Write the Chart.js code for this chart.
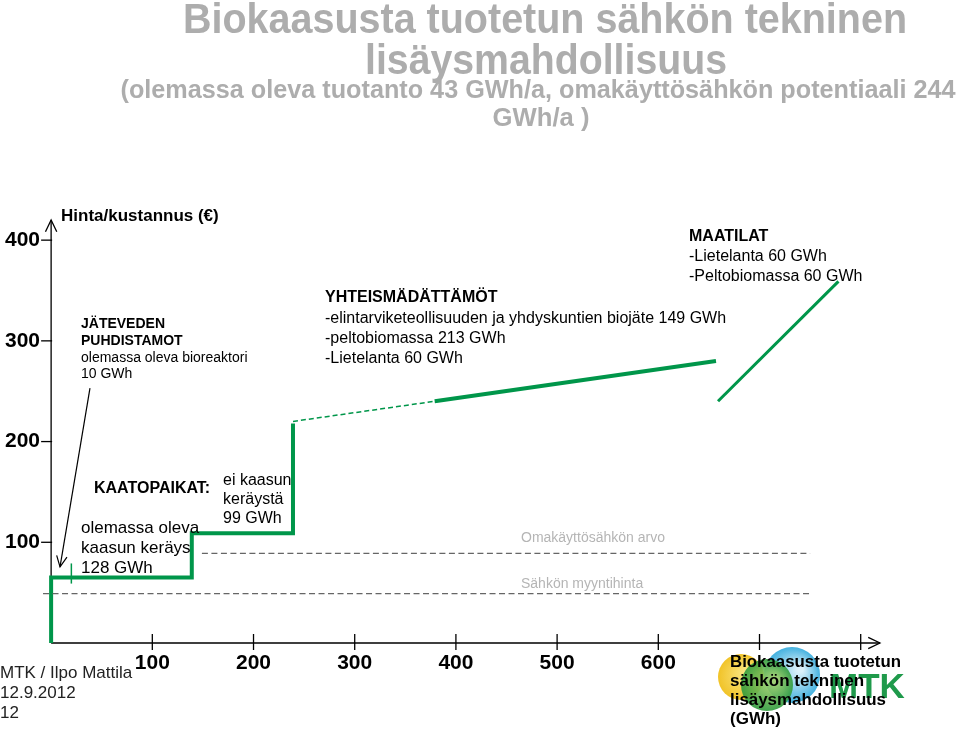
<!DOCTYPE html>
<html>
<head>
<meta charset="utf-8">
<script src="https://cdn.jsdelivr.net/npm/chart.js@4.4.1/dist/chart.umd.min.js"></script>
<style>
    body { margin: 0; background: #fff; }
    #wrap { width: 960px; height: 730px; }
</style>
</head>
<body>
<div id="wrap"><canvas id="slide" width="960" height="730"></canvas></div>
<script>
const FONT = '"Liberation Sans", Arial, sans-serif';
const green = '#00964a';

// tick labels (GWh on x, price on y)
const xTickLabels = [100, 200, 300, 400, 500, 600];
const xTickMarks = [100, 200, 300, 400, 500, 600, 700, 800];
const yTickLabels = [100, 200, 300, 400];

// cumulative GWh / price steps
const stepX = [0, 0, 139, 139, 239, 239];
const stepY = [0, 65, 65, 109, 109, 218];
const biojateX = [239, 379];
const biojateY = [220, 240];
const yhteisX = [379, 657];
const yhteisY = [240, 280];
const maatilaX = [659, 778];
const maatilaY = [240, 359];
const jatevesiX = [20, 20];
const jatevesiY = [59, 79];
const omakayttoX = [149, 750];
const omakayttoY = [89, 89];
const myyntiX = [-8, 750];
const myyntiY = [49, 49];

function pts(xs, ys) {
    return xs.map((x, i) => ({ x: x, y: ys[i] }));
}

function txt(ctx, s, x, y, font, color, align, maxW) {
    ctx.font = font;
    ctx.fillStyle = color || '#000';
    ctx.textAlign = align || 'left';
    ctx.textBaseline = 'alphabetic';
    if (maxW) ctx.fillText(s, x, y, maxW);
    else ctx.fillText(s, x, y);
}

function arrowHead(ctx, x, y, ang, len) {
    ctx.beginPath();
    ctx.moveTo(x - len * Math.cos(ang - 0.45), y - len * Math.sin(ang - 0.45));
    ctx.lineTo(x, y);
    ctx.lineTo(x - len * Math.cos(ang + 0.45), y - len * Math.sin(ang + 0.45));
    ctx.stroke();
}

const slidePlugin = {
    id: 'slide',
    beforeDatasetsDraw(chart) {
        const ctx = chart.ctx;
        const xs = chart.scales.x, ys = chart.scales.y;
        const x0 = xs.getPixelForValue(0), y0 = ys.getPixelForValue(0);
        const yTop = ys.getPixelForValue(420), xEnd = xs.getPixelForValue(819);
        ctx.save();
        ctx.strokeStyle = '#000';
        ctx.lineWidth = 1.3;
        ctx.beginPath();
        ctx.moveTo(x0, y0);
        ctx.lineTo(x0, yTop);
        ctx.moveTo(x0, y0);
        ctx.lineTo(xEnd, y0);
        ctx.stroke();
        arrowHead(ctx, x0, yTop, -Math.PI / 2, 13);
        arrowHead(ctx, xEnd, y0, 0, 13);
        yTickLabels.forEach(v => {
            const p = ys.getPixelForValue(v);
            ctx.beginPath();
            ctx.moveTo(x0 - 10, p);
            ctx.lineTo(x0 + 1, p);
            ctx.stroke();
        });
        xTickMarks.forEach(v => {
            const p = xs.getPixelForValue(v);
            ctx.beginPath();
            ctx.moveTo(p, y0 - 9);
            ctx.lineTo(p, y0 + 7);
            ctx.stroke();
        });
        ctx.restore();
    },
    afterDatasetsDraw(chart) {
        const ctx = chart.ctx;
        const xs = chart.scales.x, ys = chart.scales.y;
        ctx.save();

        // title
        const grey = '#adadad';
        txt(ctx, 'Biokaasusta tuotetun sähkön tekninen', 545, 33, 'bold 42px ' + FONT, grey, 'center', 724);
        txt(ctx, 'lisäysmahdollisuus', 546, 74, 'bold 42px ' + FONT, grey, 'center', 362);
        txt(ctx, '(olemassa oleva tuotanto 43 GWh/a, omakäyttösähkön potentiaali 244', 538, 98, 'bold 26px ' + FONT, grey, 'center', 835);
        txt(ctx, 'GWh/a )', 541, 126, 'bold 26px ' + FONT, grey, 'center', 97);

        // axis title
        txt(ctx, 'Hinta/kustannus (€)', 61, 221, 'bold 17px ' + FONT, '#000');

        // annotations
        const b14 = 'bold 14px ' + FONT, r14 = '14px ' + FONT;
        txt(ctx, 'JÄTEVEDEN', 81, 328, b14);
        txt(ctx, 'PUHDISTAMOT', 81, 345, b14);
        txt(ctx, 'olemassa oleva bioreaktori', 81, 362, r14);
        txt(ctx, '10 GWh', 81, 378, r14);

        txt(ctx, 'KAATOPAIKAT:', 94, 493, 'bold 16px ' + FONT);
        txt(ctx, 'olemassa oleva', 81, 533, '17px ' + FONT);
        txt(ctx, 'kaasun keräys', 81, 553, '17px ' + FONT);
        txt(ctx, '128 GWh', 81, 573, '17px ' + FONT);
        txt(ctx, 'ei kaasun', 223, 485, '16px ' + FONT);
        txt(ctx, 'keräystä', 223, 504, '16px ' + FONT);
        txt(ctx, '99 GWh', 223, 523, '16px ' + FONT);

        const b16 = 'bold 16px ' + FONT, r16 = '16px ' + FONT;
        txt(ctx, 'YHTEISMÄDÄTTÄMÖT', 325, 302, b16);
        txt(ctx, '-elintarviketeollisuuden ja yhdyskuntien biojäte 149 GWh', 325, 323, r16, '#000', 'left', 420);
        txt(ctx, '-peltobiomassa 213 GWh', 325, 343, r16);
        txt(ctx, '-Lietelanta 60 GWh', 325, 363, r16);

        txt(ctx, 'MAATILAT', 689, 241, b16);
        txt(ctx, '-Lietelanta 60 GWh', 689, 261, r16);
        txt(ctx, '-Peltobiomassa 60 GWh', 689, 281, r16, '#000', 'left', 182);

        txt(ctx, 'Omakäyttösähkön arvo', 521, 542, r14, '#b5b5b5');
        txt(ctx, 'Sähkön myyntihinta', 521, 588, r14, '#b5b5b5');

        // arrow from JÄTEVEDEN label down to the first GWh
        const ax1 = xs.getPixelForValue(38.4), ay1 = ys.getPixelForValue(253);
        const ax2 = xs.getPixelForValue(8.8), ay2 = ys.getPixelForValue(75.5);
        ctx.strokeStyle = '#000';
        ctx.lineWidth = 1.2;
        ctx.beginPath();
        ctx.moveTo(ax1, ay1);
        ctx.lineTo(ax2, ay2);
        ctx.stroke();
        arrowHead(ctx, ax2, ay2, Math.atan2(ay2 - ay1, ax2 - ax1), 12);

        // footer
        txt(ctx, 'MTK / Ilpo Mattila', 0, 678, '17px ' + FONT, '#222', 'left', 133);
        txt(ctx, '12.9.2012', 0, 698, '17px ' + FONT, '#222');
        txt(ctx, '12', 0, 718, '17px ' + FONT, '#222');

        // logo
        const circ = (cx, cy, r, c1, c2) => {
            const g = ctx.createRadialGradient(cx + r * 0.3, cy - r * 0.2, r * 0.1, cx, cy, r);
            g.addColorStop(0, c1);
            g.addColorStop(1, c2);
            ctx.fillStyle = g;
            ctx.beginPath();
            ctx.arc(cx, cy, r, 0, Math.PI * 2);
            ctx.fill();
        };
        ctx.globalAlpha = 0.9;
        circ(741, 677, 23, '#fbe57a', '#f0bd10');
        circ(792, 675, 28, '#d8f0fa', '#2fa9dc');
        circ(767, 685, 26, '#a8d36a', '#2e9a3c');
        ctx.globalAlpha = 1;
        txt(ctx, 'MTK', 829, 698, 'bold 35px ' + FONT, '#1f9a4b', 'left', 83);

        // x axis title
        const b17 = 'bold 17px ' + FONT;
        txt(ctx, 'Biokaasusta tuotetun', 730, 667, b17, '#000', 'left', 171);
        txt(ctx, 'sähkön tekninen', 730, 686, b17);
        txt(ctx, 'lisäysmahdollisuus', 730, 705, b17, '#000', 'left', 156);
        txt(ctx, '(GWh)', 730, 724, b17);

        ctx.restore();
    }
};

function lineSet(data, color, width, dash) {
    return {
        data: data,
        borderColor: color,
        borderWidth: width,
        borderDash: dash || [],
        borderJoinStyle: 'miter',
        pointRadius: 0,
        showLine: true,
        fill: false,
        tension: 0
    };
}

new Chart(document.getElementById('slide'), {
    type: 'scatter',
    data: {
        datasets: [
            lineSet(pts(myyntiX, myyntiY), '#666', 1.3, [6, 3.5]),
            lineSet(pts(omakayttoX, omakayttoY), '#666', 1.3, [6, 3.5]),
            lineSet(pts(stepX, stepY), green, 4),
            lineSet(pts(jatevesiX, jatevesiY), green, 1.5),
            lineSet(pts(biojateX, biojateY), green, 1.5, [5, 3]),
            lineSet(pts(yhteisX, yhteisY), green, 4),
            lineSet(pts(maatilaX, maatilaY), green, 3)
        ]
    },
    options: {
        responsive: false,
        animation: false,
        layout: { padding: { left: 0, top: 220, right: 74, bottom: 0 } },
        plugins: { legend: { display: false }, tooltip: { enabled: false } },
        scales: {
            x: {
                type: 'linear',
                min: -10,
                max: 825,
                grid: { display: false },
                border: { display: false },
                afterFit: s => { s.height = 87; },
                afterBuildTicks: s => { s.ticks = xTickLabels.map(v => ({ value: v })); },
                ticks: {
                    padding: 0,
                    color: '#000',
                    font: { family: FONT, size: 21, weight: 'bold' },
                    maxRotation: 0
                }
            },
            y: {
                type: 'linear',
                min: 0,
                max: 420,
                grid: { display: false },
                border: { display: false },
                afterFit: s => { s.width = 41; },
                afterBuildTicks: s => { s.ticks = yTickLabels.map(v => ({ value: v })); },
                ticks: {
                    padding: -7,
                    color: '#000',
                    font: { family: FONT, size: 21, weight: 'bold' }
                }
            }
        }
    },
    plugins: [slidePlugin]
});
</script>
</body>
</html>
